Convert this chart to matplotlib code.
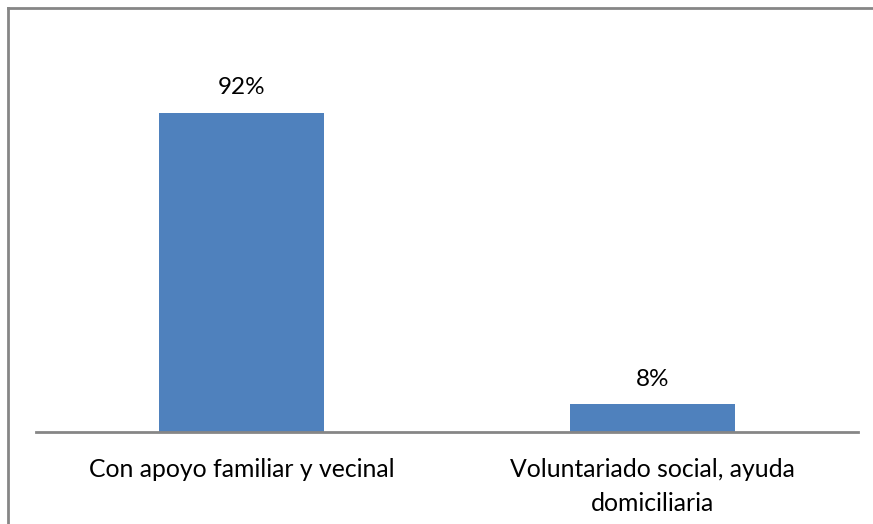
import matplotlib.pyplot as plt
from matplotlib.lines import Line2D

categories = ['Con apoyo familiar y vecinal', 'Voluntariado social, ayuda\ndomiciliaria']
values = [92, 8]
value_labels = ['92%', '8%']

W, H = 873, 524
fig = plt.figure(figsize=(W / 100, H / 100), dpi=100)
plt.rcParams['font.family'] = ['Lato', 'DejaVu Sans']

# axes placed in pixel coords: baseline at y=432, x from 36 to 858
ax = fig.add_axes([36 / W, (H - 432) / H, 822 / W, (432 - 85) / H])
x = range(len(categories))
ax.bar(x, values, width=0.4, color='#4F81BD')
ax.set_xlim(-0.5, 1.5)
ax.set_ylim(0, 100)

for i, v in enumerate(values):
    ax.text(i, v + 5.4, value_labels[i], ha='center', va='baseline', fontsize=17.5, color='black')

for s in ['top', 'right', 'left']:
    ax.spines[s].set_visible(False)
ax.spines['bottom'].set_color('#868686')
ax.spines['bottom'].set_linewidth(2)
ax.set_yticks([])
ax.set_xticks(list(x))
ax.set_xticklabels(categories, fontsize=17.8, linespacing=1.55)
ax.tick_params(axis='x', length=0, pad=19)

# outer chart border (top and left visible)
fig.add_artist(Line2D([7.5 / W, 7.5 / W], [0, (H - 8) / H], color='#868686', lw=2,
                      transform=fig.transFigure))
fig.add_artist(Line2D([7.5 / W, 1], [(H - 8) / H, (H - 8) / H], color='#868686', lw=2,
                      transform=fig.transFigure))

fig.savefig('out.png', dpi=100)
